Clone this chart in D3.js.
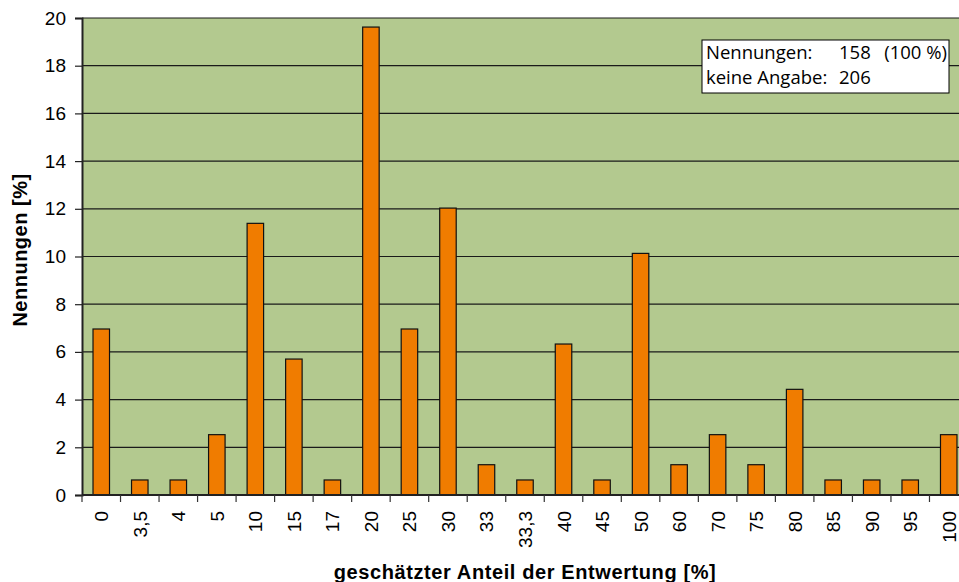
<!DOCTYPE html>
<html>
<head>
<meta charset="utf-8">
<script src="https://cdn.jsdelivr.net/npm/d3@7"></script>
<style>
  html, body { margin: 0; padding: 0; background: #fff; overflow: hidden; }
  svg { display: block; }
</style>
</head>
<body>
<script>
// Geschätzter Anteil der Entwertung – Anteil der Nennungen in Prozent
const categories = ["0", "3,5", "4", "5", "10", "15", "17", "20", "25", "30", "33", "33,3",
                    "40", "45", "50", "60", "70", "75", "80", "85", "90", "95", "100"];
const percentValues = [6.96, 0.63, 0.63, 2.53, 11.39, 5.70, 0.63, 19.62, 6.96, 12.03, 1.27, 0.63,
                       6.33, 0.63, 10.13, 1.27, 2.53, 1.27, 4.43, 0.63, 0.63, 0.63, 2.53];
const yTicks = [0, 2, 4, 6, 8, 10, 12, 14, 16, 18, 20];
const infoLabels = ["Nennungen:", "keine Angabe:"];
const infoValues = ["158", "206"];
const infoNotes = ["(100 %)", ""];

const W = 959, H = 582;
const plot = { left: 82, top: 18, right: 968, bottom: 495 };
const axisFont = "'Liberation Sans', Arial, sans-serif";

const svg = d3.select("body").append("svg").attr("width", W).attr("height", H);

const x = d3.scaleBand().domain(categories).range([plot.left, plot.right]).paddingInner(0).paddingOuter(0);
const y = d3.scaleLinear().domain([0, 20]).range([plot.bottom, plot.top]);

// plot background
svg.append("rect")
  .attr("x", plot.left).attr("y", plot.top)
  .attr("width", plot.right - plot.left).attr("height", plot.bottom - plot.top)
  .attr("fill", "#b3c98f");

// horizontal grid lines
svg.append("g")
  .selectAll("line")
  .data(yTicks.filter(d => d > 0))
  .join("line")
  .attr("x1", plot.left).attr("x2", plot.right)
  .attr("y1", d => y(d)).attr("y2", d => y(d))
  .attr("stroke", "#1a1a1a").attr("stroke-width", 1.2);

// bars
const barW = 16.5;
svg.append("g")
  .selectAll("rect")
  .data(categories.map((c, i) => ({ c, v: percentValues[i] })))
  .join("rect")
  .attr("x", d => x(d.c) + x.bandwidth() / 2 - barW / 2)
  .attr("y", d => y(d.v))
  .attr("width", barW)
  .attr("height", d => y(0) - y(d.v))
  .attr("fill", "#f07c00")
  .attr("stroke", "#111")
  .attr("stroke-width", 1.2);

// y axis
const yAxis = d3.axisLeft(y).tickValues(yTicks).tickSize(7).tickPadding(9).tickFormat(d3.format("d"));
const gy = svg.append("g").attr("transform", `translate(${plot.left},0)`).call(yAxis);
gy.select(".domain").attr("stroke", "#222").attr("stroke-width", 2);
gy.selectAll(".tick line").attr("stroke", "#222").attr("stroke-width", 1.2);
gy.selectAll(".tick text")
  .attr("font-family", axisFont)
  .attr("font-size", 19).attr("fill", "#000");

// x axis: ticks at band boundaries, labels at band centers
const gx = svg.append("g").attr("transform", `translate(0,${plot.bottom})`);
gx.append("line")
  .attr("x1", plot.left).attr("x2", plot.right)
  .attr("y1", 0).attr("y2", 0)
  .attr("stroke", "#222").attr("stroke-width", 2);
gx.selectAll("line.tk")
  .data(categories)
  .join("line")
  .attr("class", "tk")
  .attr("x1", d => x(d)).attr("x2", d => x(d))
  .attr("y1", 0).attr("y2", 7)
  .attr("stroke", "#333").attr("stroke-width", 1.2);
gx.selectAll("text")
  .data(categories)
  .join("text")
  .attr("transform", d => `translate(${x(d) + x.bandwidth() / 2 + 7},16) rotate(-90)`)
  .attr("text-anchor", "end")
  .attr("font-family", axisFont)
  .attr("font-size", 19).attr("fill", "#000")
  .text(d => d);

// axis titles
svg.append("text")
  .attr("x", 525).attr("y", 579)
  .attr("text-anchor", "middle")
  .attr("font-family", axisFont)
  .attr("font-size", 20).attr("font-weight", "bold")
  .attr("letter-spacing", 0.6)
  .text("geschätzter Anteil der Entwertung [%]");

svg.append("text")
  .attr("transform", "translate(27,250) rotate(-90)")
  .attr("text-anchor", "middle")
  .attr("font-family", axisFont)
  .attr("font-size", 20).attr("font-weight", "bold")
  .attr("letter-spacing", 0.5)
  .text("Nennungen [%]");

// info box
const box = svg.append("g").attr("transform", "translate(702,40)");
box.append("rect")
  .attr("width", 247).attr("height", 53)
  .attr("fill", "#fff").attr("stroke", "#000").attr("stroke-width", 1);
const infoFont = "'Open Sans', 'Noto Sans', sans-serif";
const rowY = i => 19 + i * 25;
box.selectAll("text.lbl")
  .data(infoLabels)
  .join("text")
  .attr("class", "lbl")
  .attr("x", 4).attr("y", (d, i) => rowY(i))
  .attr("font-family", infoFont).attr("font-size", 18.5).attr("fill", "#000")
  .text(d => d);
box.selectAll("text.val")
  .data(infoValues)
  .join("text")
  .attr("class", "val")
  .attr("x", 137).attr("y", (d, i) => rowY(i))
  .attr("font-family", infoFont).attr("font-size", 18.5).attr("fill", "#000")
  .text(d => d);
box.selectAll("text.note")
  .data(infoNotes)
  .join("text")
  .attr("class", "note")
  .attr("x", 245).attr("y", (d, i) => rowY(i))
  .attr("text-anchor", "end")
  .attr("font-family", infoFont).attr("font-size", 18.5).attr("fill", "#000")
  .text(d => d);
</script>
</body>
</html>
